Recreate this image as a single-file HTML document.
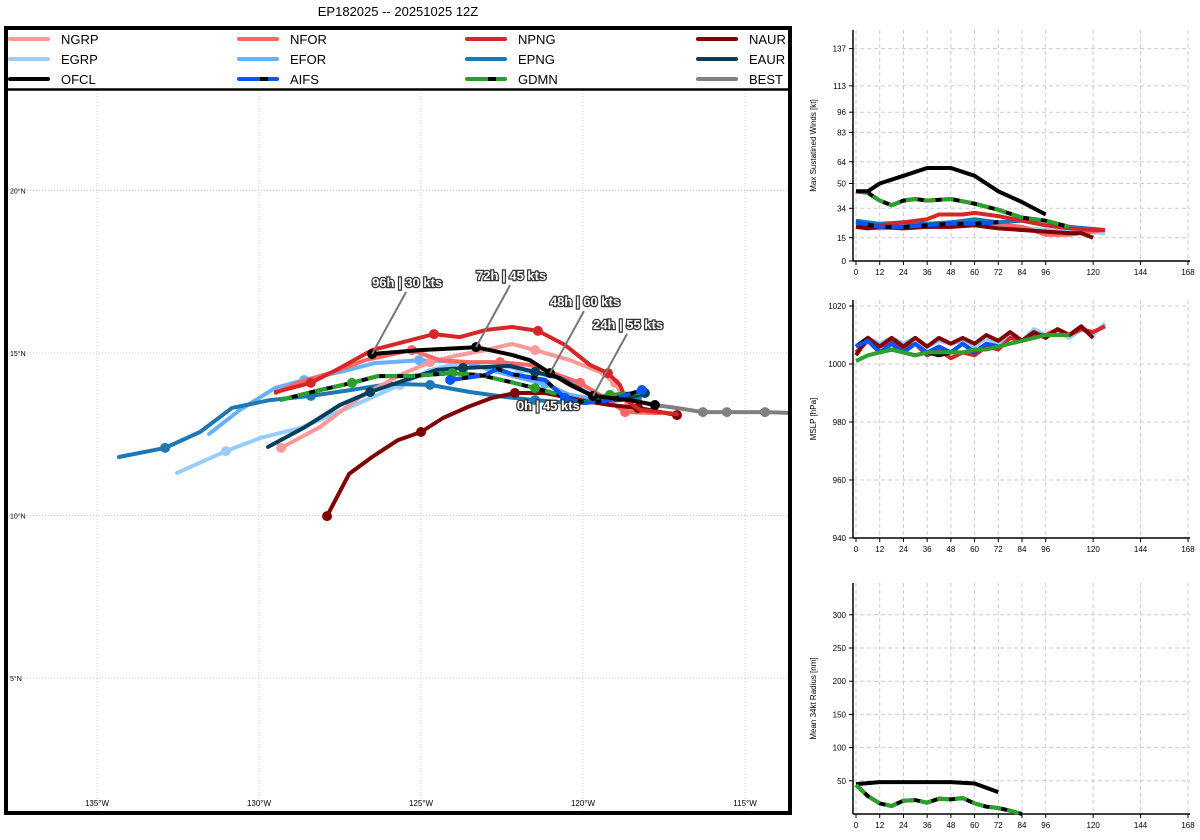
<!DOCTYPE html>
<html><head><meta charset="utf-8"><style>
html,body{margin:0;padding:0;background:#fff;}
svg{display:block;font-family:"Liberation Sans","DejaVu Sans",sans-serif;}
</style></head><body>
<svg id="c" width="1200" height="840" viewBox="0 0 1200 840" xmlns="http://www.w3.org/2000/svg">
<text x="398" y="16" font-size="13" text-anchor="middle">EP182025 -- 20251025 12Z</text>
<g id="map"></g>
<g id="p1"></g>
<g id="p2"></g>
<g id="p3"></g>
</svg>
<script>
// ---- Track data (lon, lat) ----
const ofclLon=[-117.78,-118.55,-119.69,-120.40,-121.02,-121.64,-122.19,-123.30,-125.03,-126.51];
const ofclLat=[13.40,13.55,13.68,14.02,14.38,14.78,14.94,15.18,15.09,14.97];
const bestLon=[-113.4,-114.38,-115.56,-116.30,-117.13,-117.78];
const bestLat=[13.15,13.18,13.18,13.18,13.31,13.40];
const npngLon=[-129.48,-128.40,-127.50,-126.51,-125.65,-124.60,-123.80,-122.99,-122.19,-121.39,-120.56,-119.78,-119.23,-118.86,-118.67,-118.24,-117.10];
const npngLat=[13.80,14.08,14.54,15.09,15.31,15.58,15.49,15.71,15.80,15.68,15.25,14.63,14.38,14.02,13.55,13.25,13.12];
const ngrpLon=[-129.32,-128.12,-126.88,-125.65,-124.72,-123.95,-123.02,-122.19,-121.48,-120.40,-119.48,-119.01,-118.70,-118.55,-117.93];
const ngrpLat=[12.08,12.72,13.65,14.32,14.72,14.91,15.09,15.28,15.09,14.78,14.42,14.08,13.55,13.25,13.15];
const nforLon=[-129.48,-128.73,-127.81,-126.73,-125.28,-124.41,-123.49,-122.56,-121.64,-121.02,-120.09,-119.48,-118.70,-117.62];
const nforLat=[13.77,14.11,14.38,14.78,15.09,14.78,14.72,14.72,14.63,14.42,14.08,13.71,13.18,13.15];
const naurLon=[-127.90,-127.22,-126.51,-125.71,-125.00,-124.32,-123.55,-122.81,-122.10,-121.17,-120.09,-119.17,-118.30,-117.10];
const naurLat=[9.98,11.28,11.80,12.32,12.57,13.00,13.34,13.62,13.77,13.77,13.55,13.40,13.31,13.09];
const egrpLon=[-132.53,-131.02,-129.97,-128.73,-127.04,-125.65,-124.72,-123.80,-122.87,-121.94,-120.71,-119.48,-118.24];
const egrpLat=[11.31,11.98,12.38,12.69,13.40,14.02,14.48,14.69,14.72,14.48,14.23,13.71,13.55];
const eforLon=[-131.54,-130.59,-129.51,-128.61,-127.50,-126.42,-125.06,-123.64,-122.87,-121.94,-121.17,-120.40,-119.48];
const eforLat=[12.51,13.25,13.92,14.17,14.42,14.69,14.78,14.72,14.48,14.23,14.05,13.71,13.55];
const epngLon=[-134.32,-132.90,-131.82,-130.83,-129.66,-128.40,-127.19,-125.96,-124.72,-123.49,-122.41,-121.48,-120.71,-119.48,-118.24];
const epngLat=[11.80,12.08,12.57,13.31,13.55,13.68,13.86,14.05,14.02,13.80,13.65,13.55,13.49,13.49,13.62];
const eaurLon=[-129.72,-128.58,-127.50,-126.57,-125.65,-124.51,-123.70,-122.25,-121.48,-120.71,-119.78,-118.86,-118.09];
const eaurLat=[12.11,12.72,13.40,13.80,14.11,14.48,14.54,14.60,14.42,14.23,13.71,13.55,13.77];
const gdmnLon=[-129.35,-128.12,-127.13,-126.33,-125.34,-124.04,-123.18,-122.25,-121.48,-120.71,-120.09,-119.17,-118.24];
const gdmnLat=[13.55,13.86,14.08,14.29,14.29,14.38,14.32,14.11,13.92,13.71,13.46,13.71,13.77];
const aifsLon=[-124.10,-123.02,-122.65,-122.19,-121.17,-120.56,-119.94,-119.17,-118.18];
const aifsLat=[14.17,14.32,14.51,14.35,14.17,13.62,13.46,13.55,13.86];
const lblText=["0h | 45 kts","24h | 55 kts","48h | 60 kts","72h | 45 kts","96h | 30 kts"];
const lblIdx=[0,2,4,7,9];

// ---- Intensity data ----
const hrsOfcl=[0,6,12,24,36,48,60,72,84,96];
const windOfcl=[45,45,50,55,60,60,55,45,38,30];
const hrsGdmnW=[0,6,12,18,24,30,36,48,60,72,84,96,108];
const windGdmn=[45,44,39,36,39,40,39,40,37,33,28,26,22];
const hrsNpngW=[0,12,24,36,42,54,60,72,84,96,108,120,126];
const windNpng=[22,23,25,27,30,30,31,29,26,23,21,20,20];
const hrsNaurW=[0,6,12,24,36,48,60,72,84,96,108,114,120];
const windNaur=[22,21,22,21,22,22,23,21,20,19,18,18,15];
const hrsEpngW=[0,12,24,36,48,60,72,84,96,108,126];
const windEpng=[26,24,25,24,25,27,25,26,23,22,20];
const hrsNforW=[0,12,24,36,48,60,72,84,96,108,126];
const windNfor=[22,21,22,23,24,25,24,22,17,17,20];
const hrsEgrpW=[0,24,48,72,96,126];
const windEgrp=[24,23,24,23,20,18];
const hrsAifsW=[0,12,24,36,48,60,72];
const windAifs=[25,22,22,23,24,24,25];
const mslpNaur=[1003,1009,1006,1009,1006,1009,1006,1009,1007,1009,1007,1010,1008,1011,1008,1011,1009,1012,1010,1013,1009];
const mslpEaur=[1006,1009,1007,1009,1007,1009,1006,1008,1007,1008,1006,1009,1007,1010,1008,1012,1010,1011,1009,1012,1010,1014];
const mslpNpng=[1004,1008,1006,1008,1005,1007,1003,1005,1002,1004,1003,1006,1005,1009,1008,1010,1010,1012,1010,1012,1011,1013];
const mslpAifs=[1006,1008,1004,1007,1004,1007,1004,1006,1004,1007,1004,1007,1006];
const mslpOfcl=[1006,1009,1004,1005,1004,1003,1004,1003,1004,1007,1004,1007,1006];
const mslpGdmn=[1001,1003,1004,1005,1004,1003,1004,1004,1004,1004,1005,1005,1006,1007,1008,1009,1010,1010,1010];
const hrsOfclR=[0,12,24,36,48,60,72];
const radOfcl=[45,48,48,48,48,46,33];
const hrsGdmnR=[0,6,12,18,24,30,36,42,48,54,60,66,72,78,84];
const radGdmn=[44,27,16,12,20,21,17,23,22,24,16,11,9,5,0];

const NS="http://www.w3.org/2000/svg";
function mk(parent,tag,attrs){const e=document.createElementNS(NS,tag);for(const k in attrs)e.setAttribute(k,attrs[k]);parent.appendChild(e);return e;}

// ---------- MAP ----------
const map=document.getElementById('map');
const mx=lon=>583+(lon+120)*32.4;
const my=lat=>353-(lat-15)*32.5;
let clip=mk(map,'clipPath',{id:'mclip'});mk(clip,'rect',{x:6,y:90,width:784,height:723});
let gridG=mk(map,'g',{});


[-135,-130,-125,-120,-115].forEach(l=>{mk(gridG,'line',{x1:mx(l),x2:mx(l),y1:90,y2:813,stroke:'#bbb','stroke-width':0.7,'stroke-dasharray':'1,2'});
 const t=mk(gridG,'text',{x:mx(l),y:806,'font-size':8,'text-anchor':'middle'});t.textContent=(-l)+'°W';
 });
[5,10,15,20].forEach(l=>{mk(gridG,'line',{x1:6,x2:790,y1:my(l),y2:my(l),stroke:'#bbb','stroke-width':0.7,'stroke-dasharray':'1,2'});
 const t=mk(gridG,'text',{x:10,y:my(l)+3,'font-size':7});t.textContent=l+'°N';
 });
let tg=mk(map,'g',{'clip-path':'url(#mclip)'});
function track(name,lons,lats,color,marks,dash,w){
 const g=mk(tg,'g',{});
 
 
 const pts=lons.map((l,i)=>mx(l).toFixed(1)+','+my(lats[i]).toFixed(1)).join(' ');
 w=w||4;
 if(dash){mk(g,'polyline',{points:pts,fill:'none',stroke:'#000','stroke-width':w,'stroke-linejoin':'round'});
  mk(g,'polyline',{points:pts,fill:'none',stroke:color,'stroke-width':w,'stroke-dasharray':'12,6','stroke-linejoin':'round'});}
 else mk(g,'polyline',{points:pts,fill:'none',stroke:color,'stroke-width':w,'stroke-linejoin':'round','stroke-linecap':'round'});
 marks.forEach(i=>{if(i<lons.length)mk(g,'circle',{cx:mx(lons[i]),cy:my(lats[i]),r:5,fill:color});});
}
track('egrp',egrpLon,egrpLat,'#99ccff',[1,5,9]);
track('efor',eforLon,eforLat,'#66b2ff',[3,6,10]);
track('epng',epngLon,epngLat,'#1f77b4',[1,5,8,11]);
track('ngrp',ngrpLon,ngrpLat,'#ff9999',[0,4,8,11]);
track('nfor',nforLon,nforLat,'#ff6666',[4,7,10,12]);
track('eaur',eaurLon,eaurLat,'#003f5c',[3,6,8,12]);
track('naur',naurLon,naurLat,'#800000',[0,4,8,12,13]);
track('npng',npngLon,npngLat,'#d62728',[1,5,9,12]);
track('gdmn',gdmnLon,gdmnLat,'#2ca02c',[2,5,8,11],true);
track('aifs',aifsLon,aifsLat,'#0055ff',[0,5,8],true);
track('best',bestLon,bestLat,'#808080',[1,2,3]);
track('ofcl',ofclLon,ofclLat,'#000000',[0,2,4,7,9]);
lblText.forEach((s,k)=>{const i=lblIdx[k];const px=mx(ofclLon[i]),py=my(ofclLat[i]);
 const g=mk(tg,'g',{});
 
 
 let ty;
 if(k===0){ty=py+5;}else{ty=py-67;
  mk(g,'line',{x1:px,y1:py,x2:px+34,y2:py-62,stroke:'#777','stroke-width':2});}
 const t=mk(g,'text',{x:k===0?px-138:px,y:ty,'font-size':13,'font-weight':'bold',fill:'#fff',stroke:'#333','stroke-width':2.5,'paint-order':'stroke'});
 t.textContent=s;
});
mk(map,'rect',{x:6,y:28,width:784,height:785,fill:'none',stroke:'#000','stroke-width':4});
mk(map,'line',{x1:6,x2:790,y1:89.5,y2:89.5,stroke:'#000','stroke-width':2.5});
const legNames=[['NGRP','NFOR','NPNG','NAUR'],['EGRP','EFOR','EPNG','EAUR'],['OFCL','AIFS','GDMN','BEST']];
const legCols=[['#ff9999','#ff6666','#d62728','#800000'],['#99ccff','#66b2ff','#1f77b4','#003f5c'],['#000000','#0055ff','#2ca02c','#808080']];
legNames.forEach((row,r)=>row.forEach((n,c)=>{
 const g=mk(map,'g',{});
 
 
 const x0=[10,239,467,698][c], y=39+r*20;
 mk(g,'line',{x1:x0,x2:x0+38,y1:y,y2:y,stroke:legCols[r][c],'stroke-width':4,'stroke-linecap':'round'});
 if(n==='AIFS'||n==='GDMN')mk(g,'line',{x1:x0+21,x2:x0+29,y1:y,y2:y,stroke:'#000','stroke-width':4});
 const t=mk(g,'text',{x:x0+51,y:y+5,'font-size':13});t.textContent=n;
}));

// ---------- PANELS ----------
const hx=h=>856+h*332/168;
const hTicks=[0,12,24,36,48,60,72,84,96,120,144,168];
function panel(gid,top,bottom,yfn,yTicks,label){
 const g=document.getElementById(gid);
 yTicks.forEach(v=>{const y=yfn(v);mk(g,'line',{x1:853,x2:1190,y1:y,y2:y,stroke:'#ccc','stroke-dasharray':'4,3'});
  mk(g,'line',{x1:849,x2:853,y1:y,y2:y,stroke:'#000'});
  const t=mk(g,'text',{x:846,y:y+3,'font-size':8,'text-anchor':'end'});t.textContent=v;
  });
 hTicks.forEach(h=>{const x=hx(h);mk(g,'line',{x1:x,x2:x,y1:top,y2:bottom,stroke:'#ccc','stroke-dasharray':'4,3'});
  mk(g,'line',{x1:x,x2:x,y1:bottom,y2:bottom+4,stroke:'#000'});
  const t=mk(g,'text',{x:x,y:bottom+14,'font-size':8,'text-anchor':'middle'});t.textContent=h;
  });
 mk(g,'line',{x1:853,x2:853,y1:top,y2:bottom,stroke:'#000','stroke-width':1.5});
 mk(g,'line',{x1:853,x2:1190,y1:bottom,y2:bottom,stroke:'#000','stroke-width':1.5});
 const my2=(top+bottom)/2;
 const t=mk(g,'text',{x:816,y:my2,'font-size':8,'text-anchor':'middle',transform:'rotate(-90 816 '+my2+')'});t.textContent=label;
 
 return g;
}
function series(g,name,hrs,vals,yfn,color,dash){
 const s=mk(g,'g',{});
 
 
 const pts=vals.map((v,i)=>hx(hrs[i]).toFixed(1)+','+yfn(v).toFixed(1)).join(' ');
 if(dash){mk(s,'polyline',{points:pts,fill:'none',stroke:'#000','stroke-width':4});
  mk(s,'polyline',{points:pts,fill:'none',stroke:color,'stroke-width':4,'stroke-dasharray':'12,6'});}
 else mk(s,'polyline',{points:pts,fill:'none',stroke:color,'stroke-width':4,'stroke-linejoin':'round'});
}
const six=n=>Array.from({length:n},(_,i)=>i*6);
const yW=v=>261-v*1.55;
const g1=panel('p1',30,261,yW,[0,15,34,50,64,83,96,113,137],'Max Sustatined Winds [kt]');
series(g1,'egrp-wind',hrsEgrpW,windEgrp,yW,'#99ccff');
series(g1,'nfor-wind',hrsNforW,windNfor,yW,'#ff6666');
series(g1,'epng-wind',hrsEpngW,windEpng,yW,'#1f77b4');
series(g1,'npng-wind',hrsNpngW,windNpng,yW,'#d62728');
series(g1,'naur-wind',hrsNaurW,windNaur,yW,'#800000');
series(g1,'aifs-wind',hrsAifsW,windAifs,yW,'#0055ff',true);
series(g1,'gdmn-wind',hrsGdmnW,windGdmn,yW,'#2ca02c',true);
series(g1,'ofcl-wind',hrsOfcl,windOfcl,yW,'#000');
const yP=v=>538-(v-940)*2.9;
const g2=panel('p2',300,538,yP,[940,960,980,1000,1020],'MSLP [hPa]');
series(g2,'eaur-mslp',six(mslpEaur.length),mslpEaur,yP,'#99ccff');
series(g2,'npng-mslp',six(mslpNpng.length),mslpNpng,yP,'#d62728');
series(g2,'ofcl-mslp',six(mslpOfcl.length),mslpOfcl,yP,'#000');
series(g2,'naur-mslp',six(mslpNaur.length),mslpNaur,yP,'#800000');
series(g2,'aifs-mslp',six(mslpAifs.length),mslpAifs,yP,'#0055ff');
series(g2,'gdmn-mslp',six(mslpGdmn.length),mslpGdmn,yP,'#2ca02c');
const yR=v=>814-v*0.664;
const g3=panel('p3',583,814,yR,[50,100,150,200,250,300],'Mean 34kt Radius [nm]');
series(g3,'ofcl-radius',hrsOfclR,radOfcl,yR,'#000');
series(g3,'gdmn-radius',hrsGdmnR,radGdmn,yR,'#2ca02c',true);
</script>
</body></html>
